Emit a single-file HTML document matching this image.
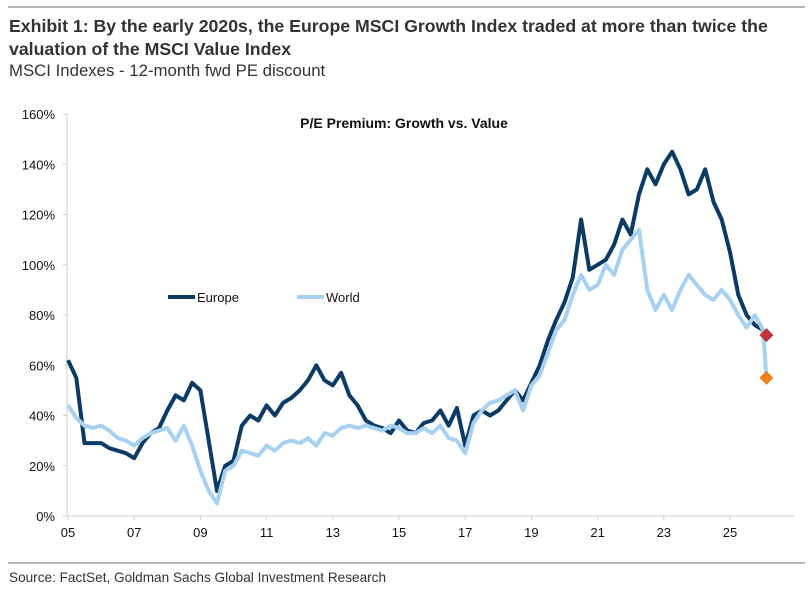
<!DOCTYPE html>
<html><head><meta charset="utf-8"><style>
body{margin:0;background:#fff;width:812px;height:588px;overflow:hidden;font-family:"Liberation Sans",Arial,sans-serif}
</style></head><body>
<svg width="812" height="588" xmlns="http://www.w3.org/2000/svg">
<line x1="8" y1="7" x2="805" y2="7" stroke="#9a9a9a" stroke-width="1.5"/>
<text x="9" y="32" font-size="17.7" font-weight="bold" fill="#333">Exhibit 1: By the early 2020s, the Europe MSCI Growth Index traded at more than twice the</text>
<text x="9" y="55" font-size="17.7" font-weight="bold" fill="#333">valuation of the MSCI Value Index</text>
<text x="9" y="76" font-size="16.8" fill="#333">MSCI Indexes - 12-month fwd PE discount</text>
<text x="404" y="128" font-size="14" font-weight="bold" text-anchor="middle" fill="#111">P/E Premium: Growth vs. Value</text>
<g id="axes"></g>
<g id="series"></g>
<g>
<line x1="168" y1="297" x2="195" y2="297" stroke="#0b3a63" stroke-width="4"/>
<text x="197" y="302" font-size="13" fill="#111">Europe</text>
<line x1="297" y1="297" x2="324" y2="297" stroke="#a8d0ef" stroke-width="4"/>
<text x="326" y="302" font-size="13" fill="#111">World</text>
</g>
<line x1="8" y1="563" x2="805" y2="563" stroke="#9a9a9a" stroke-width="1.5"/>
<text x="9" y="582" font-size="13.6" fill="#333">Source: FactSet, Goldman Sachs Global Investment Research</text>
</svg>
<script>
const years=[];for(let i=0;i<=84;i++)years.push(2005+i*0.25);years.push(2026.1);
const europe=[62,55,29,29,29,27,26,25,23,29,33,35,42,48,46,53,50,30,10,20,22,36,40,38,44,40,45,47,50,54,60,54,52,57,48,44,38,36,35,33,38,34,33,37,38,42,36,43,28,40,42,40,42,46,50,46,53,60,70,78,85,95,118,98,100,102,108,118,112,128,138,132,140,145,138,128,130,138,125,118,105,88,80,76,74,72];
const world=[44,39,36,35,36,34,31,30,28,31,33,34,35,30,36,28,18,10,5,18,20,26,25,24,28,26,29,30,29,31,28,33,32,35,36,35,36,35,34,36,35,33,33,35,33,36,31,30,25,37,42,45,46,48,50,42,52,56,65,74,78,88,96,90,92,100,96,106,110,114,90,82,88,82,90,96,92,88,86,90,86,80,75,80,74,55];
const yTicks=[0,20,40,60,80,100,120,140,160];
const xTicks=[2005,2007,2009,2011,2013,2015,2017,2019,2021,2023,2025];
const NS="http://www.w3.org/2000/svg";
const X=y=>68+(y-2005)*33.1, Y=v=>516-v*2.5125;
const ax=document.getElementById('axes'), se=document.getElementById('series');
function mk(t,a,p){const e=document.createElementNS(NS,t);for(const k in a)e.setAttribute(k,a[k]);p.appendChild(e);return e;}
let l=mk('line',{x1:67,y1:114,x2:67,y2:516,stroke:'#d0d0d0'},ax);


l=mk('line',{x1:67,y1:516,x2:795,y2:516,stroke:'#d0d0d0'},ax);


yTicks.forEach(v=>{const t=mk('text',{x:55,y:Y(v)+5,'font-size':13,'text-anchor':'end',fill:'#111'},ax);t.textContent=v+'%';


mk('line',{x1:63,x2:67,y1:Y(v),y2:Y(v),stroke:'#d0d0d0'},ax);});
xTicks.forEach(v=>{const t=mk('text',{x:X(v),y:537,'font-size':13,'text-anchor':'middle',fill:'#111'},ax);t.textContent=String(v).slice(2);


mk('line',{x1:X(v),x2:X(v),y1:516,y2:520,stroke:'#d0d0d0'},ax);});
function path(arr,col,name){const d=arr.map((v,i)=>(i?'L':'M')+X(years[i]).toFixed(1)+','+Y(v).toFixed(1)).join('');
const p=mk('path',{d:d,fill:'none',stroke:col,'stroke-width':4,'stroke-linejoin':'round'},se);

}
path(europe,'#0b3a63','europe-line');
path(world,'#a8d0ef','world-line');
function dia(v,col,name){const x=X(years[years.length-1]),y=Y(v);
const p=mk('polygon',{points:`${x},${y-7} ${x+7},${y} ${x},${y+7} ${x-7},${y}`,fill:col},se);

}
dia(europe[europe.length-1],'#c0333a','europe-latest-marker');
dia(world[world.length-1],'#f08020','world-latest-marker');
</script>
</body></html>
